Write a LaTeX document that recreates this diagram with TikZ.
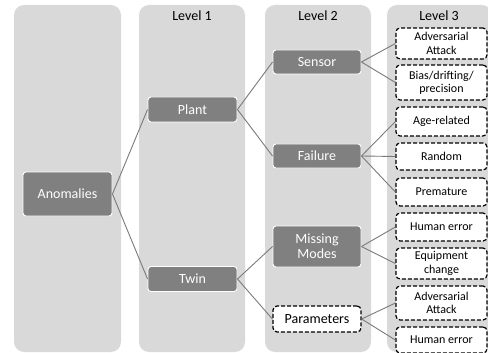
\documentclass[tikz,border=0pt]{standalone}
\usepackage{fontspec}
\setmainfont{Carlito}
\definecolor{colgray}{HTML}{D9D9D9}
\definecolor{nodegray}{HTML}{808080}
\definecolor{linkgray}{HTML}{7A7A7A}
\begin{document}
\begin{tikzpicture}[x=1pt,y=-1pt,
  column/.style={fill=colgray, draw=none, rounded corners=10pt},
  levellabel/.style={font=\fontsize{14}{15}\selectfont, inner sep=0pt},
  darkbox/.style={fill=nodegray, draw=white, line width=0.9pt, text=white,
    rounded corners=3pt, minimum width=89pt, inner sep=0pt, align=center,
    font=\fontsize{14}{15}\selectfont},
  dashbox/.style={fill=white, draw=black, dash pattern=on 4pt off 2pt,
    line width=1.2pt, rounded corners=4pt, inner sep=0pt, align=center},
  midbox/.style={dashbox, minimum width=88pt, font=\fontsize{14}{15}\selectfont},
  leaf/.style={dashbox, minimum width=91pt, font=\fontsize{12}{13.3}\selectfont},
  link/.style={draw=linkgray, line width=0.9pt}]
\useasboundingbox (0,0) rectangle (488,353);
\clip (0,0) rectangle (488,353);

% level columns
\fill[column] (14,5) rectangle (121,352);
\fill[column] (139,5) rectangle (245,352);
\fill[column] (265,5) rectangle (371,352);
\fill[column] (387,5) rectangle (492,352);

\node[levellabel] (l1) at (192,16) {Level 1};
\node[levellabel] (l2) at (318,16) {Level 2};
\node[levellabel] (l3) at (439,16) {Level 3};

% root and level 1
\node[darkbox, minimum height=44pt] (anom) at (67.5,194) {Anomalies};
\node[darkbox, minimum height=25pt] (plant) at (192.5,109.5) {Plant};
\node[darkbox, minimum height=25pt] (twin) at (192.5,279) {Twin};

% level 2
\node[darkbox, minimum width=88pt, minimum height=24pt] (sensor) at (317,62) {Sensor};
\node[darkbox, minimum width=88pt, minimum height=24pt] (failure) at (317,156) {Failure};
\node[darkbox, minimum width=88pt, minimum height=41pt] (missing) at (317,246.5) {Missing\\Modes};
\node[midbox, minimum height=26pt] (params) at (317,319) {Parameters};

% level 3
\node[leaf, minimum height=31pt] (adv1) at (441.5,43.5) {Adversarial\\Attack};
\node[leaf, minimum height=35pt] (bias) at (441.5,82.5) {Bias/drifting/\\precision};
\node[leaf, minimum height=29pt] (age) at (441.5,121.5) {Age-related};
\node[leaf, minimum height=27pt] (random) at (441.5,156.5) {Random};
\node[leaf, minimum height=28pt] (prem) at (441.5,192) {Premature};
\node[leaf, minimum height=28pt] (human1) at (441.5,227) {Human error};
\node[leaf, minimum height=31pt] (equip) at (441.5,263.5) {Equipment\\change};
\node[leaf, minimum height=34pt] (adv2) at (441.5,303) {Adversarial\\Attack};
\node[leaf, minimum height=26pt] (human2) at (441.5,340) {Human error};

% connectors
\draw[link] (anom.east) -- (plant.west);
\draw[link] (anom.east) -- (twin.west);
\draw[link] (plant.east) -- (sensor.west);
\draw[link] (plant.east) -- (failure.west);
\draw[link] (twin.east) -- (missing.west);
\draw[link] (twin.east) -- (params.west);
\draw[link] (sensor.east) -- (adv1.west);
\draw[link] (sensor.east) -- (bias.west);
\draw[link] (failure.east) -- (age.west);
\draw[link] (failure.east) -- (random.west);
\draw[link] (failure.east) -- (prem.west);
\draw[link] (missing.east) -- (human1.west);
\draw[link] (missing.east) -- (equip.west);
\draw[link] (params.east) -- (adv2.west);
\draw[link] (params.east) -- (human2.west);
\end{tikzpicture}
\end{document}
